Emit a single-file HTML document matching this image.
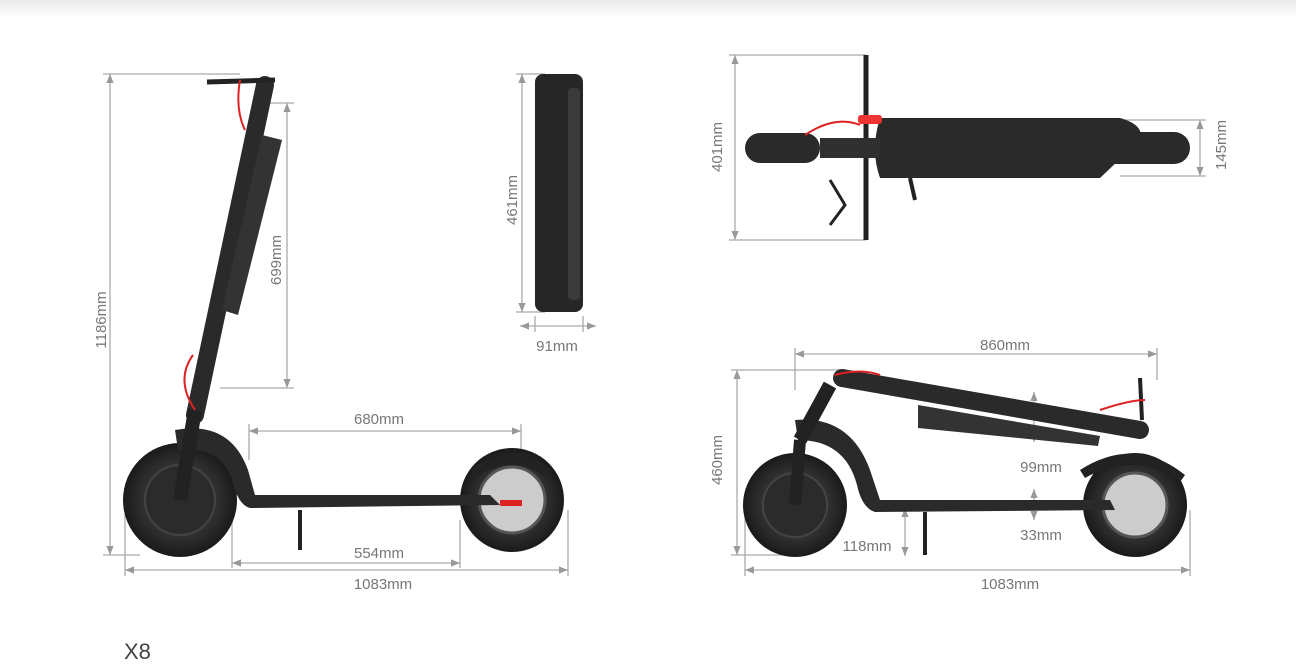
<!DOCTYPE html>
<html><head><meta charset="utf-8"><style>
html,body{margin:0;padding:0;background:#fff;}
body{width:1296px;height:669px;overflow:hidden;position:relative;}
.top{position:absolute;left:0;top:0;width:1296px;height:18px;background:linear-gradient(#e9e9e9,#fff);}
svg{position:absolute;left:0;top:0;}
text{font-family:"Liberation Sans",sans-serif;font-size:15px;fill:#777;}
</style></head><body>
<div class="top"></div>
<svg width="1296" height="669" viewBox="0 0 1296 669">
<defs>
<marker id="a" viewBox="0 0 10 10" refX="10" refY="5" markerWidth="7" markerHeight="7" orient="auto-start-reverse"><path d="M0,1 L10,5 L0,9 z" fill="#999"/></marker>
<radialGradient id="tire" cx="50%" cy="50%" r="50%"><stop offset="0.6" stop-color="#333"/><stop offset="1" stop-color="#1a1a1a"/></radialGradient>
</defs>
<g stroke="#aaa" stroke-width="1.3" fill="none">
<!-- left scooter dims -->
<line x1="110" y1="74" x2="110" y2="555" marker-start="url(#a)" marker-end="url(#a)"/>
<line x1="103" y1="74" x2="240" y2="74"/><line x1="103" y1="555" x2="140" y2="555"/>
<line x1="287" y1="103" x2="287" y2="388" marker-start="url(#a)" marker-end="url(#a)"/>
<line x1="270" y1="103" x2="294" y2="103"/><line x1="220" y1="388" x2="294" y2="388"/>
<line x1="249" y1="431" x2="521" y2="431" marker-start="url(#a)" marker-end="url(#a)"/>
<line x1="249" y1="424" x2="249" y2="460"/><line x1="521" y1="424" x2="521" y2="470"/>
<line x1="232" y1="563" x2="460" y2="563" marker-start="url(#a)" marker-end="url(#a)"/>
<line x1="232" y1="520" x2="232" y2="568"/><line x1="460" y1="520" x2="460" y2="568"/>
<line x1="125" y1="570" x2="568" y2="570" marker-start="url(#a)" marker-end="url(#a)"/>
<line x1="125" y1="510" x2="125" y2="576"/><line x1="568" y1="510" x2="568" y2="576"/>
<!-- battery dims -->
<line x1="522" y1="74" x2="522" y2="312" marker-start="url(#a)" marker-end="url(#a)"/>
<line x1="516" y1="74" x2="545" y2="74"/><line x1="516" y1="312" x2="545" y2="312"/>
<line x1="520" y1="326" x2="596" y2="326" marker-start="url(#a)" marker-end="url(#a)"/>
<line x1="535" y1="316" x2="535" y2="332"/><line x1="583" y1="316" x2="583" y2="332"/>
<!-- top view dims -->
<line x1="735" y1="55" x2="735" y2="240" marker-start="url(#a)" marker-end="url(#a)"/>
<line x1="729" y1="55" x2="866" y2="55"/><line x1="729" y1="240" x2="866" y2="240"/>
<line x1="1200" y1="120" x2="1200" y2="176" marker-start="url(#a)" marker-end="url(#a)"/>
<line x1="1120" y1="120" x2="1206" y2="120"/><line x1="1120" y1="176" x2="1206" y2="176"/>
<!-- folded dims -->
<line x1="795" y1="354" x2="1157" y2="354" marker-start="url(#a)" marker-end="url(#a)"/>
<line x1="795" y1="348" x2="795" y2="390"/><line x1="1157" y1="348" x2="1157" y2="380"/>
<line x1="737" y1="370" x2="737" y2="555" marker-start="url(#a)" marker-end="url(#a)"/>
<line x1="731" y1="370" x2="840" y2="370"/><line x1="731" y1="555" x2="790" y2="555"/>
<line x1="1034" y1="392" x2="1034" y2="442" marker-start="url(#a)" marker-end="url(#a)"/>
<line x1="1034" y1="489" x2="1034" y2="520" marker-start="url(#a)" marker-end="url(#a)"/>
<line x1="905" y1="508" x2="905" y2="556" marker-start="url(#a)" marker-end="url(#a)"/>
<line x1="745" y1="570" x2="1190" y2="570" marker-start="url(#a)" marker-end="url(#a)"/>
<line x1="745" y1="510" x2="745" y2="576"/><line x1="1190" y1="510" x2="1190" y2="576"/>
</g>
<g>
<text x="106" y="320" transform="rotate(-90 106 320)" text-anchor="middle">1186mm</text>
<text x="281" y="260" transform="rotate(-90 281 260)" text-anchor="middle">699mm</text>
<text x="379" y="424" text-anchor="middle">680mm</text>
<text x="379" y="558" text-anchor="middle">554mm</text>
<text x="383" y="589" text-anchor="middle">1083mm</text>
<text x="517" y="200" transform="rotate(-90 517 200)" text-anchor="middle">461mm</text>
<text x="557" y="351" text-anchor="middle">91mm</text>
<text x="722" y="147" transform="rotate(-90 722 147)" text-anchor="middle">401mm</text>
<text x="1226" y="145" transform="rotate(-90 1226 145)" text-anchor="middle">145mm</text>
<text x="1005" y="350" text-anchor="middle">860mm</text>
<text x="722" y="460" transform="rotate(-90 722 460)" text-anchor="middle">460mm</text>
<text x="1041" y="472" text-anchor="middle">99mm</text>
<text x="1041" y="540" text-anchor="middle">33mm</text>
<text x="867" y="551" text-anchor="middle">118mm</text>
<text x="1010" y="589" text-anchor="middle">1083mm</text>
<text x="124" y="659" style="font-size:22px;fill:#444">X8</text>
</g>
<!-- left scooter -->
<g>
<circle cx="180" cy="500" r="57" fill="url(#tire)"/><circle cx="180" cy="500" r="35" fill="#2b2b2b" stroke="#444" stroke-width="2"/>
<circle cx="512" cy="500" r="52" fill="url(#tire)"/><circle cx="512" cy="500" r="33" fill="#ccc" stroke="#555" stroke-width="3"/>
<path d="M470,470 Q512,440 552,470 L548,478 Q512,452 474,478 z" fill="#222"/>
<path d="M175,430 Q230,420 248,470 L255,495 L490,495 L500,505 L250,508 Q238,505 232,480 Q220,445 178,450 z" fill="#2a2a2a"/>
<line x1="265" y1="85" x2="195" y2="415" stroke="#2a2a2a" stroke-width="18" stroke-linecap="round"/>
<path d="M262,135 L282,140 L238,315 L222,310 z" fill="#333"/>
<line x1="195" y1="410" x2="180" y2="500" stroke="#222" stroke-width="14"/>
<line x1="207" y1="82" x2="275" y2="80" stroke="#222" stroke-width="5"/>
<path d="M240,80 Q235,110 245,130" stroke="#d22" stroke-width="2" fill="none"/>
<path d="M193,355 Q175,380 195,410" stroke="#d22" stroke-width="2" fill="none"/>
<line x1="300" y1="510" x2="300" y2="550" stroke="#222" stroke-width="4"/>
<rect x="500" y="500" width="22" height="6" fill="#d22"/>
</g>
<!-- battery -->
<rect x="535" y="74" width="48" height="238" rx="8" fill="#262626"/>
<rect x="568" y="88" width="12" height="212" rx="4" fill="#3a3a3a"/>
<!-- top view -->
<g>
<line x1="866" y1="55" x2="866" y2="240" stroke="#222" stroke-width="5"/>
<path d="M880,118 L1120,118 Q1145,125 1140,140 L1100,178 L880,178 Q870,150 880,118 z" fill="#2a2a2a"/>
<rect x="745" y="133" width="75" height="30" rx="15" fill="#2a2a2a"/>
<rect x="820" y="138" width="60" height="20" fill="#2f2f2f"/>
<rect x="1080" y="132" width="110" height="32" rx="16" fill="#2a2a2a"/>
<rect x="858" y="115" width="24" height="9" rx="3" fill="#e33"/>
<path d="M830,180 L845,205 L830,225" stroke="#222" stroke-width="3" fill="none"/>
<path d="M910,178 L915,200" stroke="#222" stroke-width="4"/>
<path d="M805,135 Q835,115 860,125" stroke="#d22" stroke-width="2" fill="none"/>
</g>
<!-- folded -->
<g>
<circle cx="795" cy="505" r="52" fill="url(#tire)"/><circle cx="795" cy="505" r="32" fill="#2b2b2b" stroke="#444" stroke-width="2"/>
<circle cx="1135" cy="505" r="52" fill="url(#tire)"/><circle cx="1135" cy="505" r="32" fill="#ccc" stroke="#555" stroke-width="3"/>
<path d="M1080,470 Q1135,435 1185,475 L1180,482 Q1135,450 1085,478 z" fill="#222"/>
<path d="M795,420 Q850,415 870,470 L880,500 L1110,500 L1115,510 L875,512 Q862,508 857,485 Q845,440 798,440 z" fill="#2a2a2a"/>
<line x1="842" y1="378" x2="1140" y2="430" stroke="#2a2a2a" stroke-width="18" stroke-linecap="round"/>
<path d="M918,405 L1100,436 L1098,446 L918,428 z" fill="#333"/>
<line x1="830" y1="385" x2="800" y2="440" stroke="#222" stroke-width="14"/>
<line x1="800" y1="440" x2="795" y2="505" stroke="#222" stroke-width="12"/>
<line x1="1140" y1="378" x2="1142" y2="420" stroke="#222" stroke-width="4"/>
<path d="M1100,410 Q1130,400 1145,400" stroke="#d22" stroke-width="2" fill="none"/>
<path d="M835,375 Q860,368 880,375" stroke="#d22" stroke-width="2" fill="none"/>
<line x1="925" y1="512" x2="925" y2="555" stroke="#222" stroke-width="4"/>
</g>
</svg>
</body></html>
